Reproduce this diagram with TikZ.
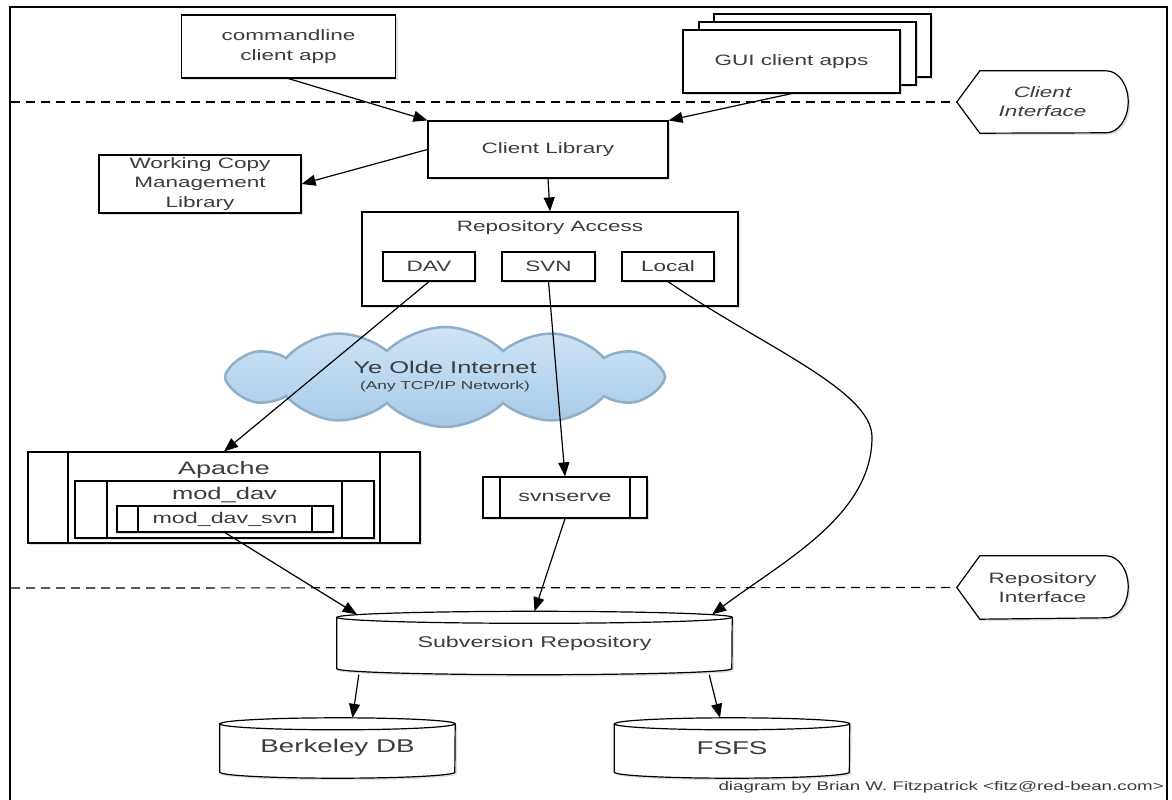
\documentclass[tikz,border=0pt]{standalone}
\usepackage{fontspec}
\setmainfont{Liberation Sans}[FakeStretch=1.5]
\usetikzlibrary{arrows.meta,shadows,shapes.symbols,backgrounds}

\definecolor{textgray}{HTML}{3C3C3C}
\definecolor{cloudline}{HTML}{8EAECA}
\definecolor{cloudtop}{HTML}{CFE4F5}
\definecolor{cloudmid}{HTML}{F2F8FD}
\definecolor{cloudbot}{HTML}{A7CAE7}

% interface tag: pointed on the left, round on the right
\newcommand{\ifacebox}[1]{%
	\begin{scope}[on background layer]
		\draw [line width=1.2pt, fill=white, drop shadow={shadow xshift=2pt, shadow yshift=-2pt, fill=black!25}]
			(#1.west) -- ([xshift=23pt]#1.north west) -- ([xshift=-22pt]#1.north east)
			arc [start angle=90, end angle=-90, x radius=22pt, y radius=31pt]
			-- ([xshift=23pt]#1.south west) -- cycle;
	\end{scope}}

% disk store drawn behind its text node
\newcommand{\diskbox}[2]{%
	\begin{scope}[on background layer]
		\draw [line width=1.2pt, fill=white, drop shadow={shadow xshift=2pt, shadow yshift=-2pt, fill=black!25}]
			([yshift=-6pt]#1.north west) -- ([yshift=6pt]#1.south west)
			arc [start angle=180, end angle=360, x radius=#2, y radius=6pt]
			-- ([yshift=-6pt]#1.north east)
			arc [start angle=0, end angle=180, x radius=#2, y radius=6pt] -- cycle;
		\draw [line width=1.2pt] ([yshift=-6pt]#1.north west)
			arc [start angle=180, end angle=360, x radius=#2, y radius=6pt];
	\end{scope}}

\begin{document}
\begin{tikzpicture}[x=1pt, y=-1pt,
	box/.style={draw, line width=1.2pt, fill=white, inner sep=0pt, align=center,
		text=textgray, font=\fontsize{15}{19.5}\selectfont,
		drop shadow={shadow xshift=2pt, shadow yshift=-2pt, fill=black!25}},
	procbox/.style={box, path picture={
		\draw [line width=1.2pt] ([xshift=#1pt]path picture bounding box.north west) -- ([xshift=#1pt]path picture bounding box.south west)
			([xshift=-#1pt]path picture bounding box.north east) -- ([xshift=-#1pt]path picture bounding box.south east);}},
	txt/.style={inner sep=0pt, align=center, text=textgray, font=\fontsize{15}{19.5}\selectfont},
	link/.style={line width=1.2pt, -{Triangle[length=14pt, width=11pt]}},
	ifline/.style={line width=1.2pt, dash pattern=on 9pt off 6pt}]
	\useasboundingbox (0,0) rectangle (1172,800);
	\draw [line width=1.5pt] (10,7) rectangle (1167,815);

	% clients
	\node [box, minimum width=214, minimum height=63] (cmdapp) at (288.5,46.5) {commandline\\client app};
	\node [box, minimum width=217, minimum height=63] (gui3) at (822.5,45.5) {};
	\node [box, minimum width=217, minimum height=63] (gui2) at (807.5,53.5) {};
	\node [box, minimum width=217, minimum height=63] (gui) at (791.5,61.5) {GUI client apps};

	% client interface
	\coordinate (cifleft) at (11,102);
	\node [txt, font=\itshape\fontsize{15}{19}\selectfont, minimum width=171, minimum height=62] (clientif) at (1042.5,102) {Client\\Interface};
	\ifacebox{clientif}
	\draw [ifline] (cifleft) -- (clientif.west);

	\node [box, minimum width=240, minimum height=57] (clientlib) at (548,149.5) {Client Library};
	\node [box, minimum width=202, minimum height=58] (wcml) at (200,184) {Working Copy\\Management\\Library};

	% repository access
	\node [box, minimum width=376, minimum height=94] (ra) at (550,259) {};
	\node [txt] (ratitle) at (550,228) {Repository Access};
	\node [box, minimum width=92, minimum height=29] (dav) at (429,266.5) {DAV};
	\node [box, minimum width=93, minimum height=29] (svn) at (548.5,266.5) {SVN};
	\node [box, minimum width=92, minimum height=29] (local) at (668,266.5) {Local};

	\node [cloud, cloud puffs=12, cloud puff arc=90, cloud ignores aspect, minimum width=440, minimum height=100,
		draw=cloudline, line width=2.5pt, top color=cloudtop, middle color=cloudmid, bottom color=cloudbot,
		align=center, text=textgray, font=\fontsize{17}{17}\selectfont] (net) at (445,377)
		{Ye Olde Internet\\[-1pt]{\fontsize{11.5}{12}\selectfont (Any TCP/IP Network)}};

	% servers
	\node [procbox=40, minimum width=392, minimum height=91] (apache) at (224,497.5) {};
	\node [txt, font=\fontsize{18}{20}\selectfont] (apachetitle) at (224,470) {Apache};
	\node [procbox=32, minimum width=299, minimum height=57] (moddav) at (224.5,509.5) {};
	\node [txt, font=\fontsize{17}{19}\selectfont] (moddavtitle) at (224.5,495) {mod\_dav};
	\node [procbox=21, minimum width=216, minimum height=26, font=\fontsize{15.5}{17}\selectfont] (moddavsvn) at (225,519) {mod\_dav\_svn};
	\node [procbox=17, minimum width=164, minimum height=41, font=\fontsize{15.5}{17}\selectfont] (svnserve) at (565,497.5) {svnserve};

	% repository interface
	\coordinate (rifleft) at (11,588);
	\node [txt, minimum width=171, minimum height=63] (repoif) at (1042.5,587.5) {Repository\\Interface};
	\ifacebox{repoif}
	\draw [ifline] (rifleft) -- (repoif.west);

	% storage
	\node [txt, minimum width=395, minimum height=63, font=\fontsize{15.5}{17}\selectfont] (repo) at (534.5,643) {Subversion Repository};
	\diskbox{repo}{197.5pt}
	\node [txt, minimum width=235, minimum height=60, font=\fontsize{18.5}{20}\selectfont] (bdb) at (337.5,748) {Berkeley DB};
	\diskbox{bdb}{117.5pt}
	\node [txt, minimum width=235, minimum height=60, font=\fontsize{18.5}{20}\selectfont] (fsfs) at (732,748) {FSFS};
	\diskbox{fsfs}{117.5pt}

	\node [txt, anchor=east, font=\fontsize{12.5}{14}\selectfont] (credit) at (1164,787) {diagram by Brian W. Fitzpatrick <fitz@red-bean.com>};

	% connectors
	\draw [link] (cmdapp.south) -- (clientlib.north west);
	\draw [link] (gui.south) -- (clientlib.north east);
	\draw [link] (clientlib.west) -- (wcml.east);
	\draw [link] (clientlib.south) -- (ra.north);
	\draw [link] (dav.south) -- (apache.north);
	\draw [link] (svn.south) -- (svnserve.north);
	\draw [link] (local.south) .. controls (760,345) and (872,390) .. (872,437)
		.. controls (872,515) and (785,560) .. ([xshift=-20pt,yshift=-3pt]repo.north east);
	\draw [link] (moddavsvn.south) -- ([xshift=20pt,yshift=-3pt]repo.north west);
	\draw [link] (svnserve.south) -- (repo.north);
	\draw [link] ([xshift=22pt]repo.south west) -- ([xshift=15pt]bdb.north);
	\draw [link] ([xshift=-23pt]repo.south east) -- ([xshift=-12pt]fsfs.north);
\end{tikzpicture}
\end{document}
